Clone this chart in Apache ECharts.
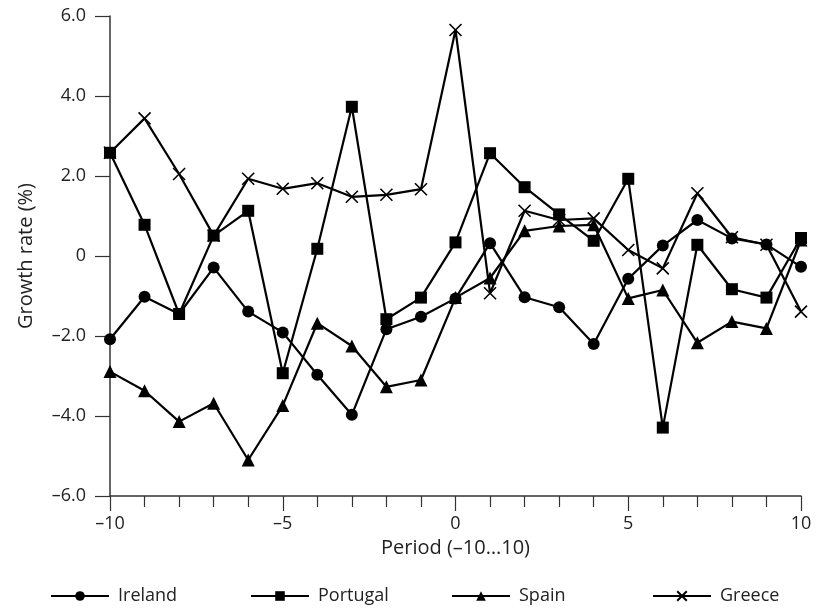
<!DOCTYPE html>
<html>
<head>
<meta charset="utf-8">
<script src="https://cdn.jsdelivr.net/npm/echarts@6/dist/echarts.min.js"></script>
<style>
  html, body { margin: 0; padding: 0; background: #fff; }
  #chart { width: 819px; height: 613px; }
</style>
</head>
<body>
<div id="chart"></div>
<script>
// periods -10 ... 10
var periods = [-10, -9, -8, -7, -6, -5, -4, -3, -2, -1, 0, 1, 2, 3, 4, 5, 6, 7, 8, 9, 10]

var ireland = [-2.08, -1.02, -1.45, -0.29, -1.39, -1.91, -2.97, -3.97, -1.83, -1.52, -1.06,
  0.32, -1.03, -1.28, -2.2, -0.57, 0.26, 0.9, 0.44, 0.29, -0.27]
var portugal = [2.58, 0.78, -1.45, 0.51, 1.13, -2.93, 0.18, 3.73, -1.58, -1.04, 0.34,
  2.57, 1.72, 1.04, 0.38, 1.93, -4.29, 0.28, -0.83, -1.04, 0.45]
var spain = [-2.89, -3.37, -4.14, -3.68, -5.1, -3.74, -1.68, -2.25, -3.27, -3.1, -1.04,
  -0.55, 0.63, 0.75, 0.78, -1.06, -0.85, -2.17, -1.64, -1.81, 0.4]
var greece = [2.58, 3.44, 2.05, 0.51, 1.93, 1.68, 1.82, 1.48, 1.53, 1.67, 5.65,
  -0.93, 1.13, 0.9, 0.94, 0.15, -0.31, 1.57, 0.47, 0.28, -1.39]

var yTicks = [-6, -4, -2, 0, 2, 4, 6]

var font = 'Open Sans'
var chart = echarts.init(document.getElementById('chart'))

function pairs(vals) {
  return periods.map(function (p, i) { return [p, vals[i]] })
}
function dash(s) {
  return String(s).replace('-', '\u2013')
}

var crossPath = 'path://M0,0L10,10M10,0L0,10'

function makeSeries(name, vals, symbol, size) {
  return {
    name: name,
    type: 'line',
    data: pairs(vals),
    symbol: symbol,
    symbolSize: size,
    showAllSymbol: true,
    lineStyle: { color: '#000', width: 2.2 },
    itemStyle: { color: '#000', borderColor: '#000', borderWidth: symbol === crossPath ? 1.6 : 0 },
    emphasis: { disabled: true },
    animation: false
  }
}

function legendAt(name, left) {
  return {
    data: [name],
    left: left,
    top: 582,
    itemWidth: 58,
    itemHeight: 12,
    itemGap: 0,
    textStyle: { fontFamily: font, fontSize: 18, color: '#222', padding: [0, 0, 0, 4] }
  }
}

chart.setOption({
  animation: false,
  backgroundColor: '#fff',
  grid: { left: 110, right: 18, top: 16, bottom: 117, containLabel: false },
  legend: [
    legendAt('Ireland', 45),
    legendAt('Portugal', 245),
    legendAt('Spain', 446),
    legendAt('Greece', 647)
  ],
  xAxis: {
    type: 'value',
    min: -10,
    max: 10,
    interval: 5,
    name: 'Period (\u201310\u202610)',
    nameLocation: 'middle',
    nameGap: 42,
    nameTextStyle: { fontFamily: font, fontSize: 20, color: '#222' },
    axisLine: { show: true, onZero: false, lineStyle: { color: '#333', width: 1.5 } },
    axisTick: { show: true, length: 15, lineStyle: { color: '#333', width: 1.2 } },
    minorTick: { show: true, splitNumber: 5, length: 11, lineStyle: { color: '#333', width: 1.2 } },
    splitLine: { show: false },
    axisLabel: {
      margin: 19,
      fontFamily: font, fontSize: 18, color: '#222',
      formatter: function (v) { return dash(v) }
    }
  },
  yAxis: {
    type: 'value',
    min: yTicks[0],
    max: yTicks[yTicks.length - 1],
    interval: 2,
    name: 'Growth rate (%)',
    nameLocation: 'middle',
    nameGap: 74,
    nameTextStyle: { fontFamily: font, fontSize: 20, color: '#222' },
    axisLine: { show: true, onZero: false, lineStyle: { color: '#333', width: 1.5 } },
    axisTick: { show: true, length: 15, lineStyle: { color: '#333', width: 1.2 } },
    splitLine: { show: false },
    axisLabel: {
      margin: 24,
      fontFamily: font, fontSize: 18, color: '#222',
      formatter: function (v) { return v === 0 ? '0' : dash(v.toFixed(1)) }
    }
  },
  series: [
    makeSeries('Ireland', ireland, 'circle', 12),
    makeSeries('Portugal', portugal, 'rect', 12),
    makeSeries('Spain', spain, 'triangle', 13),
    makeSeries('Greece', greece, crossPath, 12)
  ]
})
</script>
</body>
</html>
